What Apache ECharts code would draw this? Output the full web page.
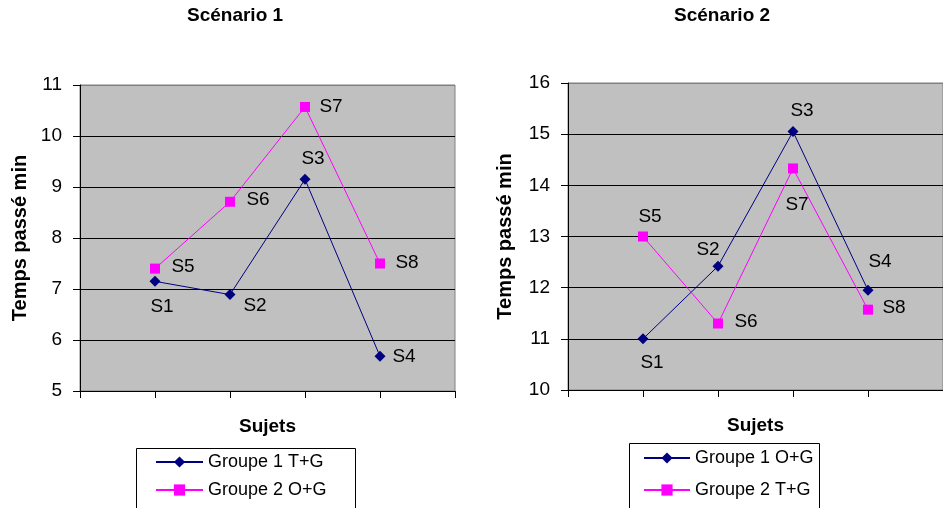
<!DOCTYPE html>
<html><head><meta charset="utf-8">
<script src="https://cdn.jsdelivr.net/npm/echarts@6/dist/echarts.min.js"></script>
<style>html,body{margin:0;padding:0;background:#fff}#c{width:943px;height:508px}</style>
</head><body><div id="c"></div>
<script>
// ---- data ----
const slots = ['', 'P1', 'P2', 'P3', 'P4', ''];
const title1 = 'Scénario 1';
const title2 = 'Scénario 2';
const yName = 'Temps passé min';
const xName = 'Sujets';

const s1G1Name = 'Groupe 1 T+G';
const s1G1Labels = ['S1', 'S2', 'S3', 'S4'];
const s1G1Values = [7.15, 6.89, 9.15, 5.68];
const s1G2Name = 'Groupe 2 O+G';
const s1G2Labels = ['S5', 'S6', 'S7', 'S8'];
const s1G2Values = [7.4, 8.71, 10.57, 7.5];

const s2G1Name = 'Groupe 1 O+G';
const s2G1Labels = ['S1', 'S2', 'S3', 'S4'];
const s2G1Values = [11.0, 12.42, 15.05, 11.95];
const s2G2Name = 'Groupe 2 T+G';
const s2G2Labels = ['S5', 'S6', 'S7', 'S8'];
const s2G2Values = [13.0, 11.3, 14.33, 11.57];

const s1YMin = 5, s1YMax = 11;
const s2YMin = 10, s2YMax = 16;

// ---- styling ----
const FONT = 'Arial, "Liberation Sans", sans-serif';
const NAVY = '#000080', MAG = '#ff00ff';
const lblOff = {
  s1g1: [[7, 25], [25, 11], [8, -21], [24, 0]],
  s1g2: [[28, -2], [28, -2], [26, 0], [27, -1]],
  s2g1: [[9, 24], [-10, -16], [9, -21], [12, -28]],
  s2g2: [[7, -20], [28, -2], [4, 36], [26, -2]]
};

function mkData(values, offs) {
  const d = ['-'];
  values.forEach((v, i) => d.push({ value: v, label: { offset: offs[i] } }));
  d.push('-');
  return d;
}
function mkSeries(name, values, labels, offs, idx, color, symbol, size) {
  return {
    type: 'line', name: name, xAxisIndex: idx, yAxisIndex: idx,
    data: mkData(values, offs),
    symbol: symbol, symbolSize: size,
    lineStyle: { color: color, width: 1 },
    itemStyle: { color: color },
    label: {
      show: true, position: 'inside', align: 'center', verticalAlign: 'middle',
      color: '#000', fontSize: 19, fontFamily: FONT, textBorderWidth: 0,
      formatter: p => labels[p.dataIndex - 1]
    },
    emphasis: { disabled: true },
    animation: false
  };
}
function splitColors() {
  const a = [];
  for (let i = 0; i < 6; i++) a.push('#000');
  a.push('#808080');
  return a;
}
function mkX(idx) {
  return {
    type: 'category', gridIndex: idx, data: slots, boundaryGap: false,
    name: xName, nameLocation: 'middle', nameGap: 26,
    nameTextStyle: { fontSize: 19, fontWeight: 'bold', fontFamily: FONT, color: '#000' },
    axisLine: { lineStyle: { color: '#000', width: 1 } },
    axisTick: { show: true, length: 7, interval: 0, lineStyle: { color: '#000' } },
    axisLabel: { show: false },
    splitLine: { show: false }
  };
}
function mkY(idx, min, max, gap) {
  return {
    type: 'value', gridIndex: idx, min: min, max: max, interval: 1,
    name: yName, nameLocation: 'middle', nameGap: gap,
    nameTextStyle: { fontSize: 20, fontWeight: 'bold', fontFamily: FONT, color: '#000' },
    axisLine: { show: true, lineStyle: { color: '#000', width: 1 } },
    axisTick: { show: true, length: 7, lineStyle: { color: '#000' } },
    axisLabel: { margin: 18, fontSize: 19, fontFamily: FONT, color: '#000' },
    splitLine: { show: true, lineStyle: { color: splitColors(), width: 1 } }
  };
}

const chart = echarts.init(document.getElementById('c'), null, { renderer: 'canvas' });
chart.setOption({
  animation: false,
  backgroundColor: '#fff',
  title: [
    { text: title1, left: 187, top: 6, padding: 0,
      textStyle: { fontSize: 19, fontWeight: 'bold', fontFamily: FONT, color: '#000' } },
    { text: title2, left: 674, top: 6, padding: 0,
      textStyle: { fontSize: 19, fontWeight: 'bold', fontFamily: FONT, color: '#000' } }
  ],
  graphic: [
    { type: 'rect', left: 136, top: 448, z: -1, silent: true,
      shape: { width: 219, height: 80 },
      style: { fill: '#fff', stroke: '#000', lineWidth: 1 } },
    { type: 'rect', left: 629, top: 443, z: -1, silent: true,
      shape: { width: 190, height: 80 },
      style: { fill: '#fff', stroke: '#000', lineWidth: 1 } }
  ],
  grid: [
    { left: 80, top: 85, right: 488, bottom: 117, show: true,
      backgroundColor: '#c0c0c0', borderColor: '#808080', borderWidth: 1 },
    { left: 568, top: 83, right: -4, bottom: 118, show: true,
      backgroundColor: '#c0c0c0', borderColor: '#808080', borderWidth: 1 }
  ],
  xAxis: [mkX(0), mkX(1)],
  yAxis: [mkY(0, s1YMin, s1YMax, 50), mkY(1, s2YMin, s2YMax, 53)],
  legend: [
    { data: [s1G1Name, s1G2Name], orient: 'vertical', left: 136, top: 448,
      padding: [5, 29, 7, 19], itemGap: 10, itemWidth: 47, itemHeight: 14,
      borderWidth: 0, z: 5,
      textStyle: { fontSize: 18, fontFamily: FONT, color: '#000' }, selectedMode: false },
    { data: [s2G1Name, s2G2Name], orient: 'vertical', left: 629, top: 443,
      padding: [6, 6, 7, 14], itemGap: 14, itemWidth: 46, itemHeight: 14,
      borderWidth: 0, z: 5,
      textStyle: { fontSize: 18, fontFamily: FONT, color: '#000' }, selectedMode: false }
  ],
  series: [
    mkSeries(s1G1Name, s1G1Values, s1G1Labels, lblOff.s1g1, 0, NAVY, 'diamond', 11),
    mkSeries(s1G2Name, s1G2Values, s1G2Labels, lblOff.s1g2, 0, MAG, 'rect', 10),
    mkSeries(s2G1Name, s2G1Values, s2G1Labels, lblOff.s2g1, 1, NAVY, 'diamond', 11),
    mkSeries(s2G2Name, s2G2Values, s2G2Labels, lblOff.s2g2, 1, MAG, 'rect', 10)
  ]
});
</script>
</body></html>
